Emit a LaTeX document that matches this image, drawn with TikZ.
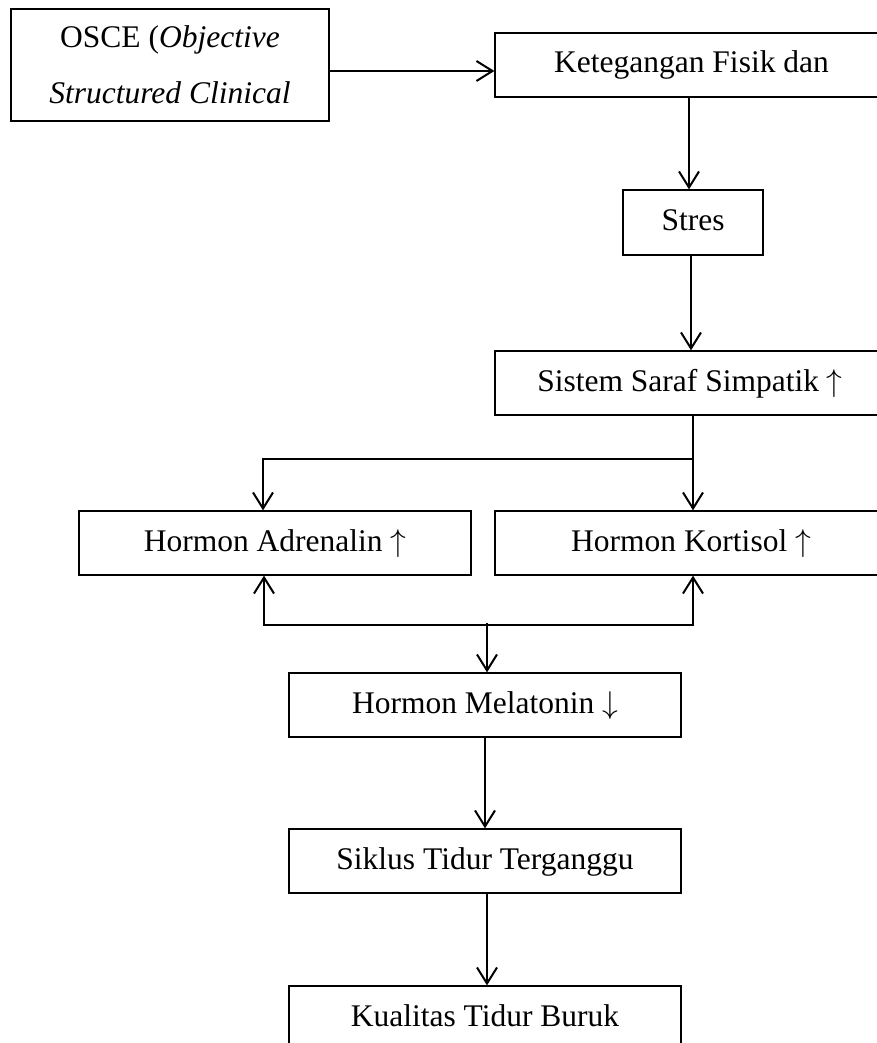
\RequirePackage{fix-cm}
\documentclass[tikz,border=0pt]{standalone}
\usepackage{fontspec}
\setmainfont{Liberation Serif}
\usetikzlibrary{arrows.meta}
\begin{document}
\begin{tikzpicture}[x=1pt,y=-1pt,
  box/.style={draw, line width=1.3pt, inner sep=0pt, align=center,
    font=\fontsize{31.5}{56}\selectfont},
  sbox/.style={box, text height=22pt, text depth=6pt, minimum height=64pt},
  arr/.style={line width=2pt, -{Straight Barb[length=16pt,width=20pt,line width=2pt]}},
  darr/.style={line width=2pt, {Straight Barb[length=16pt,width=20pt,line width=2pt]}-{Straight Barb[length=16pt,width=20pt,line width=2pt]}}]
\useasboundingbox (0,0) rectangle (877,1043);
\node[box, minimum width=318pt, minimum height=112pt] (osce) at (170,65)
  {OSCE (\textit{Objective}\\\textit{Structured Clinical}};
\node[sbox, minimum width=393pt] (ket) at (691.5,65) {Ketegangan Fisik dan};
\node[sbox, minimum width=140pt, minimum height=65pt] (stres) at (693,222.5) {Stres};
\node[sbox, minimum width=390pt] (sis) at (690,383) {Sistem Saraf Simpatik $\uparrow$};
\node[sbox, minimum width=392pt] (adr) at (275,543) {Hormon Adrenalin $\uparrow$};
\node[sbox, minimum width=392pt] (kor) at (691,543) {Hormon Kortisol $\uparrow$};
\node[sbox, minimum width=392pt] (mel) at (485,705) {Hormon Melatonin $\downarrow$};
\node[sbox, minimum width=392pt] (sik) at (485,861) {Siklus Tidur Terganggu};
\node[sbox, minimum width=392pt] (kua) at (485,1018) {Kualitas Tidur Buruk};
% junction points
\coordinate (j1) at (693,459);
\coordinate (j1l) at (263,459);
\coordinate (j2l) at (264,625);
\coordinate (j2r) at (693,625);
\coordinate (j2m) at (487,623);
\coordinate (ks) at (689,0);
\coordinate (ss) at (691,0);
% connectors
\draw[arr] ([yshift=-6pt]osce.east) -- ([yshift=-6pt]ket.west);
\draw[arr] (ket.south -| ks) -- (stres.north -| ks);
\draw[arr] (stres.south -| ss) -- (sis.north -| ss);
\draw[arr] (sis.south -| j1) -- (kor.north -| j1);
\draw[arr] (j1) -- (j1l) -- (j1l |- adr.north);
\draw[darr] (j2l |- adr.south) -- (j2l) -- (j2r) -- (j2r |- kor.south);
\draw[arr] (j2m) -- (j2m |- mel.north);
\draw[arr] (mel.south) -- (sik.north);
\draw[arr] ([xshift=2pt]sik.south) -- ([xshift=2pt]kua.north);
\end{tikzpicture}
\end{document}
